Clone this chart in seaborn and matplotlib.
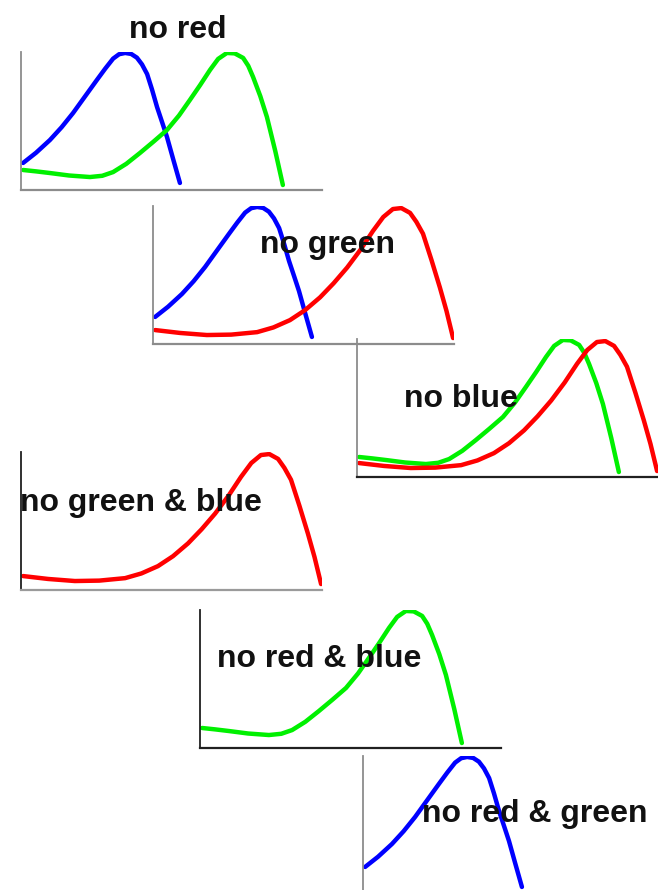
"""
Six small panels showing which colour-response curves remain.
"""
import matplotlib
matplotlib.use("Agg")
import matplotlib.pyplot as plt
import seaborn as sns
import pandas as pd

# curve shapes, in a 0-100 frame shared by every panel
blue_x = [0.7, 5, 9.6, 13.5, 17.3, 21, 25.2, 28, 30.6, 32.6, 34.6, 36.6, 38.5,
          40.2, 41.9, 43.5, 45.2, 46.9, 48.5, 50.6, 52.8]
blue_y = [19.6, 27, 36.2, 45.5, 55.8, 67, 79.7, 88, 95.2, 98.4, 99.3, 98.6, 95.9,
          91.0, 84.0, 73, 60.1, 49, 38.4, 22, 5.1]

green_x = [0.7, 5, 9.6, 16, 22.9, 27, 30.6, 35, 39.5, 44, 48.5, 52.5, 56.1, 59.5,
           62.8, 65.5, 68.4, 71, 73.8, 75.5, 77.1, 79.5, 81.7, 84.5, 87.0]
green_y = [14.5, 13.5, 12.3, 10.5, 9.4, 10.3, 13.0, 19, 26.8, 35, 43.5, 54, 65.2, 76,
           87.0, 95, 99.3, 99, 95.7, 90, 81.9, 68, 52.9, 28, 3.6]

red_x = [0.7, 9, 17.9, 26, 34.6, 40, 45.5, 50.5, 55.5, 60, 64.5, 69, 73.1, 76.5,
         79.7, 82.5, 85.4, 87.5, 89.7, 92.5, 95.3, 97.5, 99.7]
red_y = [10.1, 8, 6.5, 6.8, 8.6, 12, 17.3, 24.5, 33.8, 44, 55.4, 68.5, 82.0, 92,
         97.8, 98.5, 95.0, 88.5, 79.9, 61, 41.0, 24, 4.3]

panel_labels = ["no red", "no green", "no blue", "no green & blue",
                "no red & blue", "no red & green"]
panel_curves = [["blue", "green"], ["blue", "red"], ["green", "red"],
                ["red"], ["green"], ["blue"]]

shapes = {
    "blue": (blue_x, blue_y),
    "green": (green_x, green_y),
    "red": (red_x, red_y),
}
line_colors = {"blue": "#0000ff", "green": "#00f000", "red": "#ff0000"}

# layout in pixels of the 658x890 picture: axes left, axes bottom
W, H = 658, 890
AX_W, AX_H = 301, 138
panel_pos = [(21, 190), (153, 344), (357, 477), (21, 590), (200, 748), (363, 894)]
spine_colors = [("#8c8c8c", "#8c8c8c"), ("#8c8c8c", "#8c8c8c"), ("#8c8c8c", "#202020"),
                ("#202020", "#9a9a9a"), ("#202020", "#202020"), ("#8c8c8c", "#8c8c8c")]
# label centre x and baseline y, pixels
label_pos = [(178, 38), (327, 253), (461, 407), (141, 511), (319, 667), (535, 822)]

sns.set_style("white")
plt.rcParams["font.family"] = ["Liberation Sans", "DejaVu Sans"]

fig = plt.figure(figsize=(W / 100, H / 100), dpi=100)

for i, label in enumerate(panel_labels):
    left, bottom = panel_pos[i]
    ax = fig.add_axes([left / W, (H - bottom) / H, AX_W / W, AX_H / H])
    ax.patch.set_alpha(0)
    rows = []
    for name in panel_curves[i]:
        xs, ys = shapes[name]
        for k, (x, y) in enumerate(zip(xs, ys)):
            rows.append({"curve": name, "order": k, "x": x, "y": y})
    df = pd.DataFrame(rows)
    sns.lineplot(data=df, x="x", y="y", hue="curve", palette=line_colors,
                 sort=False, estimator=None, units="curve", legend=False,
                 linewidth=3.2, ax=ax, solid_capstyle="round",
                 solid_joinstyle="round")
    ax.set_xlim(0, 100)
    ax.set_ylim(0, 100)
    ax.set_xticks([])
    ax.set_yticks([])
    ax.set_xlabel("")
    ax.set_ylabel("")
    sns.despine(ax=ax)
    ax.spines["left"].set_color(spine_colors[i][0])
    ax.spines["bottom"].set_color(spine_colors[i][1])
    ax.spines["left"].set_linewidth(1.3)
    ax.spines["bottom"].set_linewidth(1.6)

for i, label in enumerate(panel_labels):
    cx, by = label_pos[i]
    fig.text(cx / W, (H - by) / H, label, ha="center", va="baseline",
             fontsize=23, fontweight="bold", color="#111111", zorder=10)

fig.savefig("out.png", dpi=100)
